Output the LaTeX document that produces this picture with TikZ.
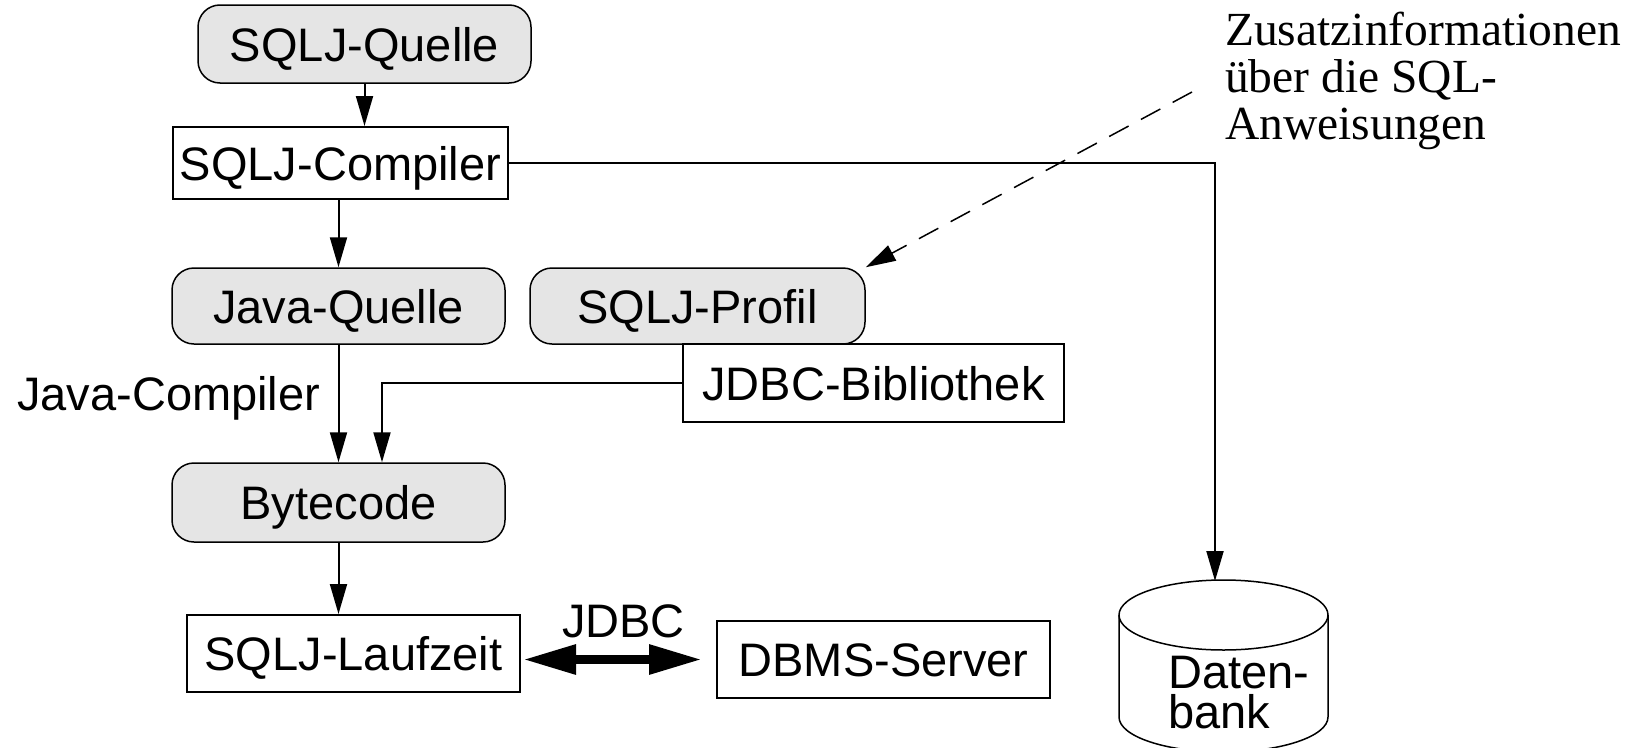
\documentclass[tikz,border=0pt]{standalone}
\usepackage{fontspec}
\setmainfont{Liberation Serif}
\setsansfont{Liberation Sans}
\usetikzlibrary{arrows.meta}
\begin{document}
\begin{tikzpicture}[x=1pt,y=-1pt,
  base/.style={inner sep=0pt, font=\sffamily\fontsize{47}{47}\selectfont, text height=34pt, text depth=0pt},
  rbox/.style={base, draw, line width=1.5pt, fill=black!10, rounded corners=22pt},
  sbox/.style={base, draw, line width=2pt},
  conn/.style={line width=2pt, -{Triangle[length=30pt,width=17pt]}},
  dashconn/.style={line width=1.5pt, dash pattern=on 22pt off 14pt, -{Triangle[length=30pt,width=17pt]}},
  dbl/.style={line width=9pt, {Triangle[length=53pt,width=28pt]}-{Triangle[length=53pt,width=28pt]}},
  lbl/.style={inner sep=0pt, font=\sffamily\fontsize{47}{47}\selectfont},
]
\useasboundingbox (0,0) rectangle (1632,747);

% boxes
\node[rbox, minimum width=333pt, minimum height=78pt] (quelle) at (364.5,44) {SQLJ-Quelle};
\node[sbox, minimum width=335pt, minimum height=72pt] (compiler) at (340.5,163) {SQLJ-Compiler};
\node[rbox, minimum width=333pt, minimum height=76pt] (javaq) at (338.5,306) {Java-Quelle};
\node[rbox, minimum width=335pt, minimum height=76pt] (profil) at (697.5,306) {SQLJ-Profil};
\node[sbox, minimum width=381pt, minimum height=78pt] (jdbcbib) at (873.5,383) {JDBC-Bibliothek};
\node[rbox, minimum width=333pt, minimum height=79pt] (bytecode) at (338.5,502.5) {Bytecode};
\node[sbox, minimum width=333pt, minimum height=77pt] (laufzeit) at (353.5,653.5) {SQLJ-Laufzeit};
\node[sbox, minimum width=333pt, minimum height=77pt] (dbms) at (883.5,659.5) {DBMS-Server};

% labels
\node[lbl, anchor=base west] (javacomp) at (17,410) {Java-Compiler};
\node[lbl, anchor=base] (jdbclbl) at (623.5,637) {JDBC};
\node[inner sep=0pt, anchor=base west, align=left, font=\rmfamily\fontsize{47.5}{47}\selectfont] (zusatz) at (1225,139)
  {Zusatzinformationen\\über die SQL-\\Anweisungen};

% database cylinder
\draw[line width=1.5pt, fill=white] (1119,615) -- (1119,717)
  arc[start angle=180, end angle=360, x radius=104.5pt, y radius=35pt] -- (1328,615);
\draw[line width=1.5pt] (1223.5,615) ellipse [x radius=104.5pt, y radius=35pt];
\coordinate (dbtop) at (1215,581);
\node[inner sep=0pt, anchor=base west, align=left, font=\sffamily\fontsize{47}{40}\selectfont] (dbtext) at (1168,728) {Daten-\\bank};

% connectors
\draw[conn] (quelle.south) -- (quelle.south |- compiler.north);
\draw[conn] (javaq.north |- compiler.south) -- (javaq.north);
\draw[conn] (javaq.south) -- (bytecode.north);
\draw[conn] (jdbcbib.west) -| ([xshift=43.5pt]bytecode.north);
\draw[conn] (bytecode.south) -- (bytecode.south |- laufzeit.north);
\draw[conn] (compiler.east) -| (dbtop);
\coordinate (dashstart) at (1192,92);
\draw[dashconn] (dashstart) -- (profil.north east);
\draw[dbl] ([xshift=2pt]laufzeit.east |- dbms.west) -- ([xshift=-14pt]dbms.west);
\end{tikzpicture}
\end{document}
